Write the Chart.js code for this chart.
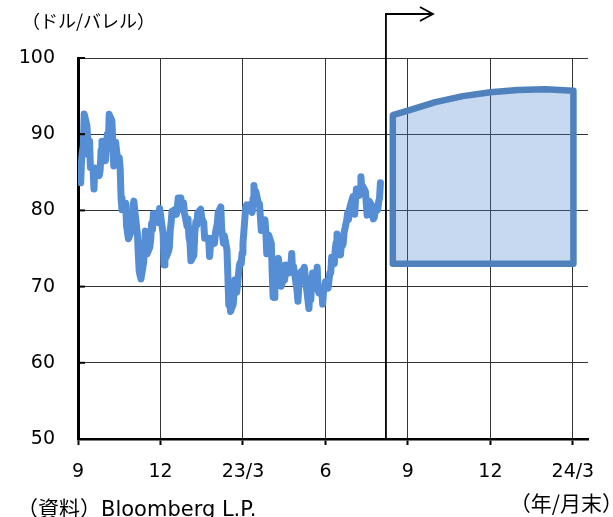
<!DOCTYPE html>
<html>
<head>
<meta charset="utf-8">
<script src="https://cdn.jsdelivr.net/npm/chart.js@4.4.1/dist/chart.umd.min.js"></script>
<style>
  html, body { margin: 0; padding: 0; background: #fff; }
  #wrap { width: 613px; height: 517px; position: relative; }
</style>
</head>
<body>
<div id="wrap"><canvas id="c"></canvas></div>
<script>
// WTI daily close (dollars per barrel), Oct 2022 - Aug 2023
const oilDates = [
  '2022-10-03','2022-10-04','2022-10-05','2022-10-06','2022-10-07','2022-10-10','2022-10-11','2022-10-12','2022-10-13','2022-10-14','2022-10-17','2022-10-18','2022-10-19','2022-10-20','2022-10-21','2022-10-24','2022-10-25','2022-10-26','2022-10-27','2022-10-28','2022-10-31',
  '2022-11-01','2022-11-02','2022-11-03','2022-11-04','2022-11-07','2022-11-08','2022-11-09','2022-11-10','2022-11-11','2022-11-14','2022-11-15','2022-11-16','2022-11-17','2022-11-18','2022-11-21','2022-11-22','2022-11-23','2022-11-25','2022-11-28','2022-11-29','2022-11-30',
  '2022-12-01','2022-12-02','2022-12-05','2022-12-06','2022-12-07','2022-12-08','2022-12-09','2022-12-12','2022-12-13','2022-12-14','2022-12-15','2022-12-16','2022-12-19','2022-12-20','2022-12-21','2022-12-22','2022-12-23','2022-12-27','2022-12-28','2022-12-29','2022-12-30',
  '2023-01-03','2023-01-04','2023-01-05','2023-01-06','2023-01-09','2023-01-10','2023-01-11','2023-01-12','2023-01-13','2023-01-17','2023-01-18','2023-01-19','2023-01-20','2023-01-23','2023-01-24','2023-01-25','2023-01-26','2023-01-27','2023-01-30','2023-01-31',
  '2023-02-01','2023-02-02','2023-02-03','2023-02-06','2023-02-07','2023-02-08','2023-02-09','2023-02-10','2023-02-13','2023-02-14','2023-02-15','2023-02-16','2023-02-17','2023-02-21','2023-02-22','2023-02-23','2023-02-24','2023-02-27','2023-02-28',
  '2023-03-01','2023-03-02','2023-03-03','2023-03-06','2023-03-07','2023-03-08','2023-03-09','2023-03-10','2023-03-13','2023-03-14','2023-03-15','2023-03-16','2023-03-17','2023-03-20','2023-03-21','2023-03-22','2023-03-23','2023-03-24','2023-03-27','2023-03-28','2023-03-29','2023-03-30','2023-03-31',
  '2023-04-03','2023-04-04','2023-04-05','2023-04-06','2023-04-10','2023-04-11','2023-04-12','2023-04-13','2023-04-14','2023-04-17','2023-04-18','2023-04-19','2023-04-20','2023-04-21','2023-04-24','2023-04-25','2023-04-26','2023-04-27','2023-04-28',
  '2023-05-01','2023-05-02','2023-05-03','2023-05-04','2023-05-05','2023-05-08','2023-05-09','2023-05-10','2023-05-11','2023-05-12','2023-05-15','2023-05-16','2023-05-17','2023-05-18','2023-05-19','2023-05-22','2023-05-23','2023-05-24','2023-05-25','2023-05-26','2023-05-30','2023-05-31',
  '2023-06-01','2023-06-02','2023-06-05','2023-06-06','2023-06-07','2023-06-08','2023-06-09','2023-06-12','2023-06-13','2023-06-14','2023-06-15','2023-06-16','2023-06-20','2023-06-21','2023-06-22','2023-06-23','2023-06-26','2023-06-27','2023-06-28','2023-06-29','2023-06-30',
  '2023-07-03','2023-07-05','2023-07-06','2023-07-07','2023-07-10','2023-07-11','2023-07-12','2023-07-13','2023-07-14','2023-07-17','2023-07-18','2023-07-19','2023-07-20','2023-07-21','2023-07-24','2023-07-25','2023-07-26','2023-07-27','2023-07-28','2023-07-31',
  '2023-08-01','2023-08-02','2023-08-03','2023-08-04','2023-08-07','2023-08-08','2023-08-09','2023-08-10','2023-08-11','2023-08-14','2023-08-15','2023-08-16','2023-08-17','2023-08-18','2023-08-21','2023-08-22','2023-08-23','2023-08-24','2023-08-25','2023-08-28','2023-08-29','2023-08-30','2023-08-31'
];
const oilPrices = [
  83.63, 86.52, 87.76, 88.45, 92.64, 91.13, 89.35, 87.27, 89.11, 85.61, 85.46, 82.82, 85.55, 84.51, 85.05, 84.58, 85.32, 87.91, 89.08, 87.90, 86.53,
  88.37, 90.00, 88.17, 92.61, 91.79, 88.91, 85.83, 86.47, 88.96, 85.87, 86.92, 85.59, 81.64, 80.08, 80.04, 80.95, 77.94, 76.28, 77.24, 78.20, 80.55,
  81.22, 79.98, 76.93, 74.25, 72.01, 71.46, 71.02, 73.17, 75.39, 77.28, 76.11, 74.29, 75.19, 76.23, 78.29, 77.49, 79.56, 79.53, 78.96, 78.40, 80.26,
  76.93, 72.84, 73.67, 73.77, 74.63, 75.12, 77.41, 78.39, 79.86, 80.18, 79.48, 80.33, 81.64, 81.62, 80.13, 80.15, 81.01, 79.68, 77.90, 78.87,
  76.41, 75.88, 73.39, 74.11, 77.14, 78.47, 78.06, 79.72, 80.14, 79.06, 78.59, 78.49, 76.34, 76.36, 73.95, 75.39, 76.32, 75.68, 77.05,
  77.69, 78.16, 79.68, 80.46, 77.58, 76.66, 75.72, 76.68, 74.80, 71.33, 67.61, 68.35, 66.74, 67.64, 69.33, 70.90, 69.96, 69.26, 72.81, 73.20, 72.97, 74.37, 75.67,
  80.42, 80.71, 80.61, 80.70, 79.74, 81.53, 83.26, 82.16, 82.52, 80.83, 80.86, 79.16, 77.37, 77.87, 78.76, 77.07, 74.30, 74.76, 76.78,
  75.66, 71.66, 68.60, 68.56, 71.34, 73.16, 73.71, 72.56, 70.87, 70.04, 71.11, 70.86, 72.83, 71.86, 71.69, 71.99, 72.91, 74.34, 71.83, 72.67, 69.46, 68.09,
  70.10, 71.74, 72.15, 71.74, 72.53, 71.29, 70.17, 67.12, 69.42, 68.27, 70.62, 71.78, 71.19, 72.53, 69.51, 69.16, 69.37, 67.70, 69.56, 69.86, 70.64,
  69.79, 71.79, 71.80, 73.86, 72.99, 74.83, 75.75, 76.89, 75.42, 74.15, 75.75, 75.35, 75.63, 77.07, 78.74, 79.63, 78.78, 80.09, 80.58, 81.80,
  81.37, 79.49, 81.55, 82.82, 81.94, 82.92, 84.40, 82.82, 83.19, 82.51, 80.99, 79.38, 80.39, 81.25, 80.72, 79.64, 78.89, 79.05, 79.83, 80.10, 81.16, 81.63, 83.63
];

// forecast range (months after end of Sep 2022)
const bandX = [11.45, 12, 13, 14, 15, 16, 17, 18.02];
const bandUpper = [92.5, 93.1, 94.2, 95.0, 95.5, 95.8, 95.9, 95.7];
const bandLower = 73.0;
const forecastFrom = 11.2;

// x ticks: month-ends
const xTickPos = [0, 3, 6, 9, 12, 15, 18];
const xTickLabels = ['9', '12', '23/3', '6', '9', '12', '24/3'];

const numFont = "'DejaVu Sans', Verdana, sans-serif";
const jpFont = "'Noto Sans CJK JP', sans-serif";

// month offset from end of Sep 2022
function monthPos(s) {
  const p = s.split('-').map(Number);
  const dim = new Date(p[0], p[1], 0).getDate();
  return (p[0] - 2022) * 12 + (p[1] - 10) + p[2] / dim;
}

const priceData = oilDates.map((d, i) => ({ x: monthPos(d), y: oilPrices[i] }));

const bandData = [{ x: bandX[0], y: bandLower }];
bandX.forEach((x, i) => bandData.push({ x: x, y: bandUpper[i] }));
bandData.push({ x: bandX[bandX.length - 1], y: bandLower });
bandData.push({ x: bandX[0], y: bandLower });

const extras = {
  id: 'extras',
  afterDatasetsDraw(chart) {
    const { ctx, chartArea, scales } = chart;
    const x = scales.x.getPixelForValue(forecastFrom);
    const topY = chartArea.top - 44;
    ctx.save();
    ctx.strokeStyle = '#000';
    ctx.lineWidth = 1.8;
    ctx.beginPath();
    ctx.moveTo(x, chartArea.bottom);
    ctx.lineTo(x, topY);
    ctx.lineTo(x + 47, topY);
    ctx.stroke();
    ctx.beginPath();
    ctx.moveTo(x + 34, topY - 7);
    ctx.lineTo(x + 47, topY);
    ctx.lineTo(x + 34, topY + 7);
    ctx.stroke();
    ctx.restore();
  },
  afterDraw(chart) {
    const { ctx, chartArea, scales } = chart;
    ctx.save();
    // inward ticks on y axis
    ctx.strokeStyle = '#000';
    ctx.lineWidth = 2;
    scales.y.ticks.forEach(t => {
      const y = scales.y.getPixelForValue(t.value);
      ctx.beginPath();
      ctx.moveTo(chartArea.left, y);
      ctx.lineTo(chartArea.left + 7, y);
      ctx.stroke();
    });
    ctx.fillStyle = '#000';
    ctx.textBaseline = 'middle';
    ctx.textAlign = 'left';
    ctx.font = '18px ' + jpFont;
    ctx.fillText('（ドル/バレル）', 22, 21);
    ctx.font = '21px ' + numFont + ', ' + jpFont;
    ctx.fillText('（資料）Bloomberg L.P.', 17, 511);
    ctx.textAlign = 'right';
    ctx.font = '21px ' + jpFont;
    ctx.fillText('（年/月末）', 623, 503);
    ctx.restore();
  }
};

new Chart(document.getElementById('c'), {
  type: 'line',
  data: {
    datasets: [
      {
        label: 'WTI',
        data: priceData,
        borderColor: '#558ED5',
        borderWidth: 7,
        borderJoinStyle: 'round',
        borderCapStyle: 'round',
        pointRadius: 0,
        fill: false,
        tension: 0
      },
      {
        label: '見通し',
        data: bandData,
        borderColor: '#4F81BD',
        backgroundColor: 'rgba(70,130,210,0.3)',
        borderWidth: 6.5,
        borderJoinStyle: 'round',
        borderCapStyle: 'round',
        pointRadius: 0,
        fill: 'shape',
        tension: 0
      }
    ]
  },
  options: {
    responsive: true,
    maintainAspectRatio: false,
    animation: false,
    layout: { padding: { top: 58, right: 25, bottom: 0, left: 0 } },
    plugins: {
      legend: { display: false },
      tooltip: { enabled: false }
    },
    scales: {
      x: {
        type: 'linear',
        min: 0,
        max: 18.55,
        afterBuildTicks(scale) { scale.ticks = xTickPos.map(v => ({ value: v })); },
        afterFit(scale) { scale.height = 78; },
        border: { color: '#000', width: 2.5 },
        grid: {
          color: '#333',
          lineWidth: 1,
          borderDash: [2, 3],
          drawTicks: true,
          tickLength: 6,
          tickColor: '#000',
          tickWidth: 2,
          tickBorderDash: []
        },
        ticks: {
          autoSkip: false,
          maxRotation: 0,
          padding: 16,
          color: '#000',
          font: { family: numFont, size: 19 },
          callback: (v) => {
            const i = xTickPos.indexOf(v);
            return i >= 0 ? xTickLabels[i] : '';
          }
        }
      },
      y: {
        min: 50,
        max: 100,
        afterFit(scale) { scale.width = 78; },
        border: { color: '#000', width: 3 },
        grid: {
          color: '#333',
          lineWidth: 1,
          borderDash: [2, 3],
          drawTicks: false
        },
        ticks: {
          stepSize: 10,
          padding: 23,
          color: '#000',
          font: { family: numFont, size: 19 }
        }
      }
    }
  },
  plugins: [extras]
});
</script>
</body>
</html>
